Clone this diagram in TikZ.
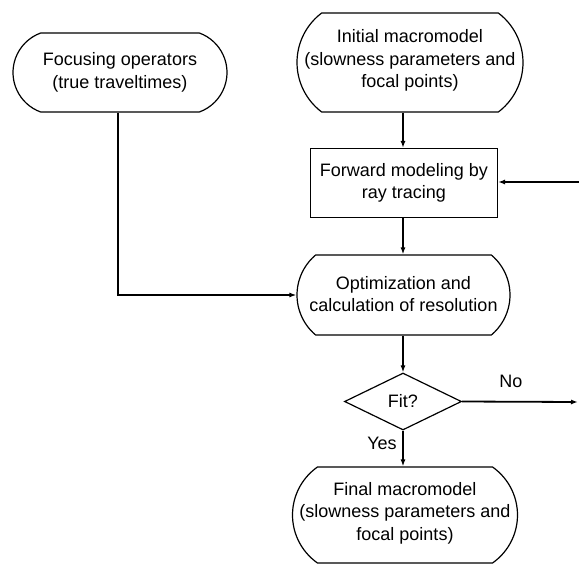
\documentclass[tikz,border=0pt]{standalone}
\usepackage{fontspec}
\setmainfont{Liberation Sans}
\usepackage{tikz}
\usetikzlibrary{arrows.meta,positioning,shapes.geometric,shapes.misc}

\begin{document}
\begin{tikzpicture}[x=1pt,y=-1pt,
    flowline/.style={line width=1.8pt, -{Latex[length=7pt,width=5pt]}},
    boxtext/.style={align=center, font=\fontsize{18}{22.5}\selectfont, inner sep=0pt},
    capsule/.style={draw, line width=1.2pt, rounded rectangle, rounded rectangle arc length=#1, inner sep=0pt},
    capsule/.default=110,
    procbox/.style={draw, line width=1.1pt, rectangle, boxtext},
    testbox/.style={draw, line width=1.2pt, diamond, aspect=2, boxtext}]
  % Page frame
  \useasboundingbox (0,0) rectangle (579,563);

  % Input capsules
  \node[capsule=140, minimum width=214pt, minimum height=79pt,
    label={[boxtext]center:{Focusing operators\\(true traveltimes)}}] (focus) at (120,72.5) {};
  \node[capsule=106, minimum width=226pt, minimum height=99pt,
    label={[boxtext, yshift=2pt]center:{Initial macromodel\\(slowness parameters and\\focal points)}}] (initial) at (410,62.5) {};

  % Forward modeling
  \node[procbox, minimum width=187pt, minimum height=69pt] (forward) at (404,183)
    {Forward modeling by\\ray tracing};

  % Optimization
  \node[capsule=100, minimum width=213pt, minimum height=80pt,
    label={[boxtext, yshift=1pt]center:{Optimization and\\calculation of resolution}}] (optim) at (403.5,295) {};

  % Decision
  \node[testbox, minimum width=117pt, minimum height=57pt] (fit) at (403,401.5) {Fit?};

  % Result
  \node[capsule=110, minimum width=225pt, minimum height=96pt,
    label={[boxtext, yshift=2pt]center:{Final macromodel\\(slowness parameters and\\focal points)}}] (final) at (405,515) {};

  % Loose ends at the right border
  \coordinate (loopin) at (579,182);
  \coordinate (loopout) at (578,402);

  % Connectors
  \draw[flowline] (initial.south -| fit.north) -- (forward.north -| fit.north);
  \draw[flowline] (forward.south -| fit.north) -- (optim.north -| fit.north);
  \draw[flowline] (optim.south -| fit.north) -- (fit.north);
  \draw[flowline] (fit.south) -- (final.north -| fit.south);
  \draw[flowline] (focus.south -| 118,0) |- (optim.west);
  \draw[flowline] (loopin) -- (forward.east |- loopin);
  \draw[flowline] (fit.east) -- (loopout);

  % Branch labels
  \node[boxtext] (nolabel) at (511,381) {No};
  \node[boxtext] (yeslabel) at (382,443) {Yes};
\end{tikzpicture}
\end{document}
